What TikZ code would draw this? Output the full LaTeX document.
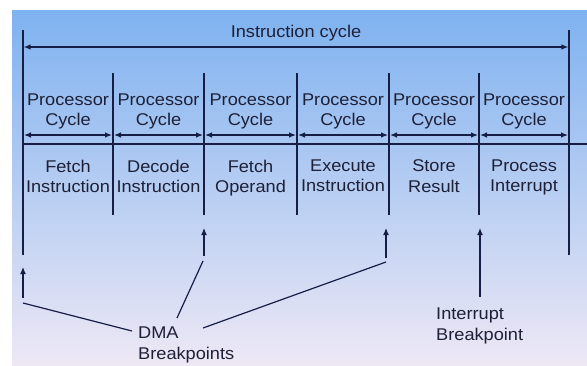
\documentclass[tikz,border=0pt]{standalone}
\usepackage{fontspec}
\setmainfont{Liberation Sans}[FakeStretch=1.07]
\usetikzlibrary{arrows.meta}
\definecolor{ln}{RGB}{22,30,70}
\definecolor{tx}{RGB}{30,32,55}
\definecolor{bgtop}{RGB}{126,178,240}
\definecolor{bgmid}{RGB}{182,207,240}
\definecolor{bgbot}{RGB}{238,232,245}
\begin{document}
\begin{tikzpicture}[x=1pt,y=-1pt,
  ln/.style={draw=ln,line width=1.2pt},
  arr/.style={ln,-{Latex[length=7pt,width=6pt]}},
  darr/.style={ln,{Latex[length=7pt,width=5.5pt]}-{Latex[length=7pt,width=5.5pt]}},
  lbl/.style={text=tx,font=\fontsize{17}{20.5}\selectfont,inner sep=0pt,align=center,anchor=north},
  note/.style={text=tx,font=\fontsize{17}{21}\selectfont,inner sep=0pt,align=left,anchor=north west}]
\useasboundingbox (0,0) rectangle (587,365);
\shade[top color=bgtop,middle color=bgmid,bottom color=bgbot] (12,10) rectangle (587,365);

% title and instruction-cycle span
\node[lbl] (title) at (296,25) {Instruction cycle};
\coordinate (L0) at (23,30);  \coordinate (L1) at (23,255);
\coordinate (R0) at (569,30); \coordinate (R1) at (569,255);
\draw[ln] (L0) -- (L1);
\draw[ln] (R0) -- (R1);
\coordinate (icl) at (23.6,47); \coordinate (icr) at (568.4,47);
\draw[darr] (icl) -- (icr);

% inner dividers
\foreach \n/\x in {d1/113,d2/204,d3/297,d4/389,d5/479}{
  \coordinate (\n t) at (\x,73); \coordinate (\n b) at (\x,215);
  \draw[ln] (\n t) -- (\n b);
}

% horizontal line under processor cycles
\coordinate (hl) at (23,144); \coordinate (hr) at (587,144);
\draw[ln] (hl) -- (hr);

% processor cycle columns
\foreach \i/\a/\b in {1/24/112,2/114/203,3/205/296,4/298/388,5/390/478,6/480/568}{
  \node[lbl] (pc\i) at ({(\a+\b)/2},93.5) {Processor\\Cycle};
  \coordinate (pa\i) at (\a,135); \coordinate (pb\i) at (\b,135);
  \draw[darr] (pa\i) -- (pb\i);
}

% stage labels
\node[lbl] (s1) at (68,159.5) {Fetch\\Instruction};
\node[lbl] (s2) at (158.5,159.5) {Decode\\Instruction};
\node[lbl] (s3) at (250.5,159.5) {Fetch\\Operand};
\node[lbl] (s4) at (343,159.5) {Execute\\Instruction};
\node[lbl] (s5) at (434,159.5) {Store\\Result};
\node[lbl] (s6) at (524,159.5) {Process\\Interrupt};

% breakpoint arrows
\coordinate (a1b) at (23,298);  \coordinate (a1t) at (23,267);
\coordinate (a2b) at (204,256); \coordinate (a2t) at (204,228);
\coordinate (a3b) at (386,258); \coordinate (a3t) at (386,228);
\coordinate (a4b) at (480,297); \coordinate (a4t) at (480,228);
\draw[arr] (a1b) -- (a1t);
\draw[arr] (a2b) -- (a2t);
\draw[arr] (a3b) -- (a3t);
\draw[arr] (a4b) -- (a4t);

% labels
\node[note] (dma) at (138,326.5) {DMA\\Breakpoints};
\node[note] (int) at (436,307.5) {Interrupt\\Breakpoint};

% DMA connectors
\coordinate (c1a) at (23,303);  \coordinate (c1b) at (132,331);
\coordinate (c2a) at (203,261); \coordinate (c2b) at (177,318);
\coordinate (c3a) at (386,262); \coordinate (c3b) at (203,328);
\draw[ln] (c1a) -- (c1b);
\draw[ln] (c2a) -- (c2b);
\draw[ln] (c3a) -- (c3b);
\end{tikzpicture}
\end{document}
